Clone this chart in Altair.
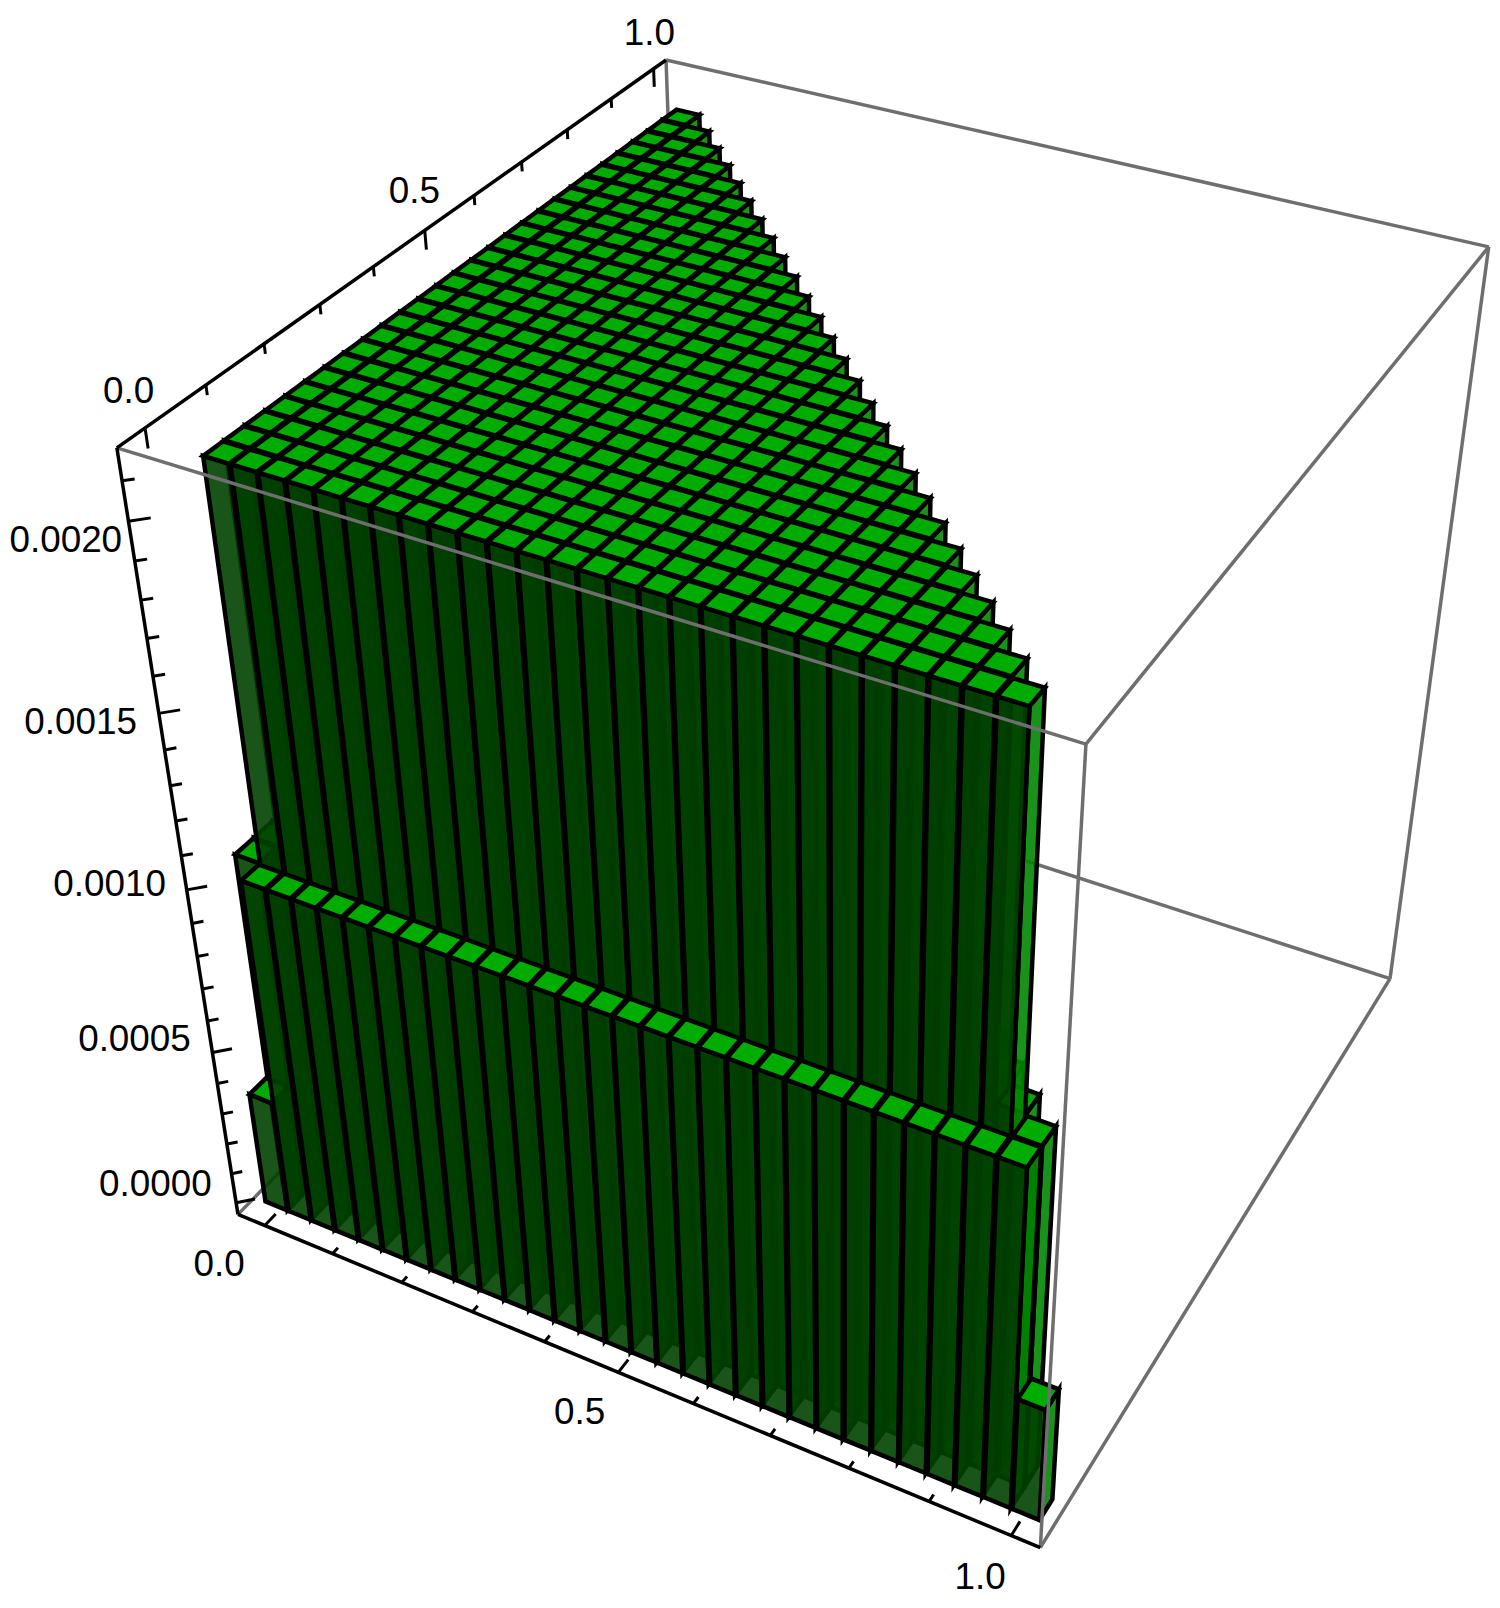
import numpy as np
import altair as alt

# ---- data: bar height class per bin, row y-bin 0 (front) to 29 (back)
ROWS = [
    "133333333333333333333333333331",
    "36666666666666666666666666663",
    "3666666666666666666666666663",
    "366666666666666666666666663",
    "36666666666666666666666663",
    "3666666666666666666666663",
    "366666666666666666666663",
    "36666666666666666666663",
    "3666666666666666666663",
    "366666666666666666663",
    "36666666666666666663",
    "3666666666666666663",
    "366666666666666663",
    "36666666666666663",
    "3666666666666663",
    "366666666666663",
    "36666666666663",
    "3666666666663",
    "366666666663",
    "36666666663",
    "3666666663",
    "366666663",
    "36666663",
    "3666663",
    "366663",
    "36663",
    "3663",
    "363",
    "33",
    "1",
]
LEVELS = {"1": 0.00036, "3": 0.00105, "6": 0.00214}
NBINS = 29
BAR_WIDTH = 0.94
X_RANGE = [0.006, 1.008]
Y_RANGE = [-0.010, 1.0]

XDOM = [-0.04, 1.035]
YDOM = [-0.045, 1.03]
ZDOM = [-0.00004, 0.00218]

# calibration of the perspective view: box corner (u, v, w) -> page pixel
BOX_CORNERS = [(0, 1, 1), (0, 0, 1), (1, 1, 1), (1, 0, 1), (0, 0, 0), (1, 0, 0), (1, 1, 0)]
BOX_PIXELS = [(668, 58), (118, 444), (1495, 244), (1090, 746), (239, 1217), (1044, 1550), (1396, 979)]

XT_MAJOR = [0.0, 0.5, 1.0]
XT_MINOR = [0.1, 0.2, 0.3, 0.4, 0.6, 0.7, 0.8, 0.9]
ZT_MAJOR = [0.0, 0.0005, 0.0010, 0.0015, 0.0020]
ZT_MINOR = [0.0001, 0.0002, 0.0003, 0.0004, 0.0006, 0.0007, 0.0008, 0.0009,
            0.0011, 0.0012, 0.0013, 0.0014, 0.0016, 0.0017, 0.0018, 0.0019, 0.0021]

LABELS = ["1.0", "0.5", "0.0", "0.0020", "0.0015", "0.0010", "0.0005", "0.0000", "0.0", "0.5", "1.0"]
LABEL_X = [652, 416, 129, 66, 81, 110, 135, 156, 220, 582, 984]
LABEL_Y = [31, 190, 390, 540, 723, 885, 1041, 1187, 1267, 1415, 1581]

COL_TOP = "#00ac00"
COL_FRONT = "#004200"
COL_SIDE_IN = "#002400"
COL_SIDE_OUT = "#008600"
ALPHA = 0.9
GRAY = "#6e6e6e"
OFFSET = 8

# ---- camera
A = []
for (X, Y, Z), (u, v) in zip(BOX_CORNERS, BOX_PIXELS):
    A.append([X, Y, Z, 1, 0, 0, 0, 0, -u * X, -u * Y, -u * Z, -u])
    A.append([0, 0, 0, 0, X, Y, Z, 1, -v * X, -v * Y, -v * Z, -v])
P = np.linalg.svd(np.array(A, float))[2][-1].reshape(3, 4)


def proj(x, y, z):
    n = np.array([(x - XDOM[0]) / (XDOM[1] - XDOM[0]),
                  (y - YDOM[0]) / (YDOM[1] - YDOM[0]),
                  (z - ZDOM[0]) / (ZDOM[1] - ZDOM[0]), 1.0])
    p = P @ n
    return [round(float(p[0] / p[2]) - OFFSET, 1), round(float(p[1] / p[2]) - OFFSET, 1)]


def poly(points, fill, alpha):
    ring = [proj(*q) for q in points]
    ring.append(ring[0])
    return {"type": "Feature", "geometry": {"type": "Polygon", "coordinates": [ring]},
            "properties": {"fill": fill, "a": alpha}}


def line(a, b, color, w):
    return {"type": "Feature",
            "geometry": {"type": "LineString", "coordinates": [proj(*a), proj(*b)]},
            "properties": {"c": color, "w": w}}


def height(i, j):
    if j < 0 or j >= len(ROWS) or i < 0 or i >= len(ROWS[j]):
        return 0.0
    return LEVELS[ROWS[j][i]]


# ---- bars, painted far to near
faces = []
dx = (X_RANGE[1] - X_RANGE[0]) / NBINS
dy = (Y_RANGE[1] - Y_RANGE[0]) / NBINS
for j in range(len(ROWS) - 1, -1, -1):
    for i in range(len(ROWS[j])):
        h = height(i, j)
        cx, cy = X_RANGE[0] + i * dx, Y_RANGE[0] + j * dy
        x0, x1 = cx - BAR_WIDTH * dx / 2, cx + BAR_WIDTH * dx / 2
        y0, y1 = cy - BAR_WIDTH * dy / 2, cy + BAR_WIDTH * dy / 2
        side = COL_SIDE_OUT if height(i + 1, j) < h else COL_SIDE_IN
        faces.append(poly([(x1, y0, 0), (x1, y1, 0), (x1, y1, h), (x1, y0, h)], side, ALPHA))
        faces.append(poly([(x0, y0, 0), (x1, y0, 0), (x1, y0, h), (x0, y0, h)], COL_FRONT, ALPHA))
        faces.append(poly([(x0, y0, h), (x1, y0, h), (x1, y1, h), (x0, y1, h)], COL_TOP, 1.0))

# ---- box edges
xa, xb = XDOM
ya, yb = YDOM
za, zb = ZDOM
back_edges = [
    line((xa, yb, zb), (xa, yb, za), GRAY, 3.5),
    line((xa, ya, za), (xa, yb, za), GRAY, 3.5),
    line((xa, yb, za), (xb, yb, za), GRAY, 3.5),
    line((xa, yb, zb), (xb, yb, zb), GRAY, 3.5),
]
front_edges = [
    line((xa, ya, zb), (xb, ya, zb), GRAY, 3.5),
    line((xb, ya, zb), (xb, yb, zb), GRAY, 3.5),
    line((xb, ya, zb), (xb, ya, za), GRAY, 3.5),
    line((xb, yb, zb), (xb, yb, za), GRAY, 3.5),
    line((xb, ya, za), (xb, yb, za), GRAY, 3.5),
]
axes = [
    line((xa, ya, za), (xb, ya, za), "black", 3.5),
    line((xa, ya, zb), (xa, yb, zb), "black", 3.5),
    line((xa, ya, za), (xa, ya, zb), "black", 3.5),
]
for t, L in [(t, 0.022) for t in XT_MAJOR] + [(t, 0.011) for t in XT_MINOR]:
    axes.append(line((t, ya, za), (t, ya + L, za), "black", 3))
for t, L in [(t, 0.00005) for t in XT_MAJOR] + [(t, 0.000025) for t in XT_MINOR]:
    axes.append(line((xa, t, zb), (xa, t, zb - L), "black", 3))
for t, L in [(t, 0.016) for t in ZT_MAJOR] + [(t, 0.009) for t in ZT_MINOR]:
    axes.append(line((xa, ya, t), (xa + L, ya + L, t), "black", 3))


def identity(layer):
    return layer.project(type="identity", scale=1, translate=[0, 0])


def line_layer(features):
    return identity(alt.Chart(alt.Data(values=features)).mark_geoshape(filled=False).encode(
        stroke=alt.Stroke("properties.c:N", scale=None),
        strokeWidth=alt.StrokeWidth("properties.w:Q", scale=None),
    ))


bars = identity(alt.Chart(alt.Data(values=faces)).mark_geoshape(stroke="black", strokeWidth=4.5).encode(
    fill=alt.Fill("properties.fill:N", scale=None),
    fillOpacity=alt.FillOpacity("properties.a:Q", scale=None),
))

label_rows = [{"t": t, "x": x - OFFSET, "y": y - OFFSET} for t, x, y in zip(LABELS, LABEL_X, LABEL_Y)]
labels = alt.Chart(alt.Data(values=label_rows)).mark_text(
    font="Liberation Sans", fontSize=37, color="black", align="center", baseline="middle"
).encode(
    x=alt.X("x:Q", scale=None), y=alt.Y("y:Q", scale=None), text="t:N"
)

chart = alt.layer(line_layer(back_edges), bars, line_layer(front_edges), line_layer(axes), labels).properties(
    width=1490, height=1598, padding=0, autosize=alt.AutoSizeParams(type="none"), background="white",
).configure_view(strokeWidth=0, stroke=None)

chart.save("out.html", embed_options={"renderer": "svg", "actions": False})
